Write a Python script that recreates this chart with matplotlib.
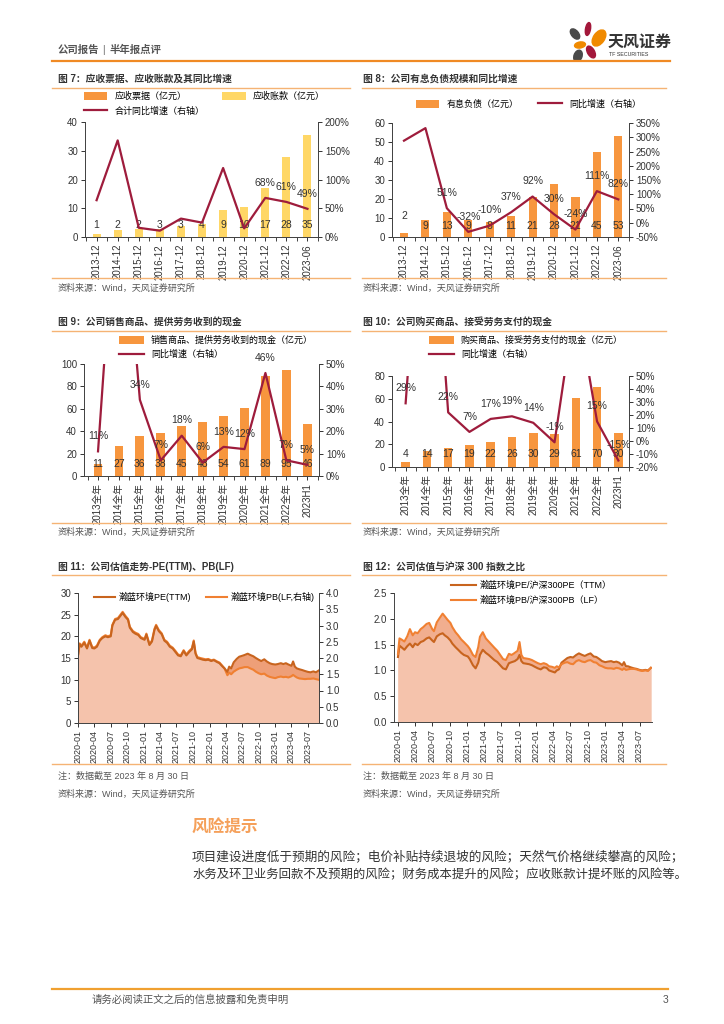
import matplotlib
matplotlib.use("Agg")
import matplotlib.pyplot as plt
import matplotlib.dates as mdates
from matplotlib.patches import Ellipse, Patch
from matplotlib.lines import Line2D
from matplotlib.ticker import FuncFormatter
import numpy as np
import pandas as pd

plt.rcParams['font.family'] = ['Liberation Sans', 'Noto Sans CJK SC']
plt.rcParams['axes.unicode_minus'] = False

# ---------------- data ----------------
years_a = ['2013-12', '2014-12', '2015-12', '2016-12', '2017-12', '2018-12',
           '2019-12', '2020-12', '2021-12', '2022-12', '2023-06']
years_b = ['2013全年', '2014全年', '2015全年', '2016全年', '2017全年', '2018全年',
           '2019全年', '2020全年', '2021全年', '2022全年', '2023H1']

# fig 7
notes_rec = [0, 0, 0, 0, 0, 0, 0, 0, 0, 0, 0]
accts_rec = [0.9, 2.4, 2.8, 2.7, 3.7, 4.4, 9.3, 10.3, 17.2, 27.8, 35.4]
rec_labels = [1, 2, 2, 3, 3, 4, 9, 10, 17, 28, 35]
rec_growth = [64, 168, 16, 11, 32, 25, 120, 15, 68, 61, 49]
rec_show = [8, 9, 10]

# fig 8
debt = [2, 9, 13, 9, 8, 11, 21, 28, 21, 45, 53]
debt_growth = [288, 332, 51, -32, -10, 37, 92, 30, -24, 111, 82]
debt_show = [2, 3, 4, 5, 6, 7, 8, 9, 10]

# fig 9
cash_in = [11, 27, 36, 38, 45, 48, 54, 61, 89, 95, 46]
cash_in_growth = [11, 145, 34, 7, 18, 6, 13, 12, 46, 7, 5]
cash_in_show = [0, 2, 3, 4, 5, 6, 7, 8, 9, 10]

# fig 10
cash_out = [4, 14, 17, 19, 22, 26, 30, 29, 61, 70, 30]
cash_out_growth = [29, 250, 22, 7, 17, 19, 14, -1, 110, 15, -15]
cash_out_show = [0, 2, 3, 4, 5, 6, 7, 9, 10]

# fig 11 / 12 time series
dates = [
    '2020-01-02', '2020-01-10', '2020-01-20', '2020-02-05', '2020-02-20', '2020-03-05', '2020-03-20',
    '2020-04-01', '2020-04-15', '2020-05-01', '2020-05-15', '2020-06-01', '2020-06-15', '2020-07-01',
    '2020-07-10', '2020-07-25', '2020-08-10', '2020-08-25', '2020-09-05', '2020-09-20', '2020-10-05',
    '2020-10-15', '2020-11-01', '2020-11-15', '2020-12-01', '2020-12-15',
    '2021-01-05', '2021-01-15', '2021-02-01', '2021-02-15', '2021-03-01', '2021-03-10', '2021-03-25',
    '2021-04-10', '2021-04-25', '2021-05-10', '2021-05-25', '2021-06-10', '2021-06-25', '2021-07-10',
    '2021-07-25', '2021-08-10', '2021-08-25', '2021-09-10', '2021-09-25', '2021-10-05', '2021-10-15',
    '2021-10-25', '2021-11-10', '2021-11-25', '2021-12-10', '2021-12-25',
    '2022-01-10', '2022-01-25', '2022-02-10', '2022-02-25', '2022-03-10', '2022-03-25', '2022-04-10',
    '2022-04-20', '2022-05-01', '2022-05-15', '2022-06-01', '2022-06-15', '2022-07-01', '2022-07-15',
    '2022-08-01', '2022-08-15', '2022-09-01', '2022-09-15', '2022-10-01', '2022-10-15', '2022-11-01',
    '2022-11-15', '2022-12-01', '2022-12-15',
    '2023-01-01', '2023-01-15', '2023-02-01', '2023-02-15', '2023-03-01', '2023-03-15', '2023-04-01',
    '2023-04-10', '2023-04-20', '2023-05-01', '2023-05-15', '2023-06-01', '2023-06-15', '2023-07-01',
    '2023-07-15', '2023-08-01', '2023-08-15', '2023-08-30']

pe_ttm = [15.8, 18.2, 17.6, 18.5, 17.2, 19.0, 17.3, 17.2, 17.6, 19.0, 19.6, 20.0, 19.8, 20.0, 22.5,
          23.8, 24.0, 24.8, 25.4, 24.5, 23.8, 22.0, 21.0, 20.6, 20.3, 19.6,
          19.2, 20.4, 18.0, 18.8, 21.5, 22.4, 21.2, 20.5, 19.0, 18.5, 17.6, 17.2, 16.4, 15.6, 15.4,
          16.6, 15.6, 16.4, 17.0, 18.8, 16.0, 15.0, 14.8, 14.6, 14.5, 14.6,
          14.3, 14.5, 14.1, 13.8, 13.2, 12.6, 11.8, 13.0, 12.6, 14.0, 14.8, 15.3, 15.5, 15.7, 16.0,
          15.7, 15.4, 15.0, 14.6, 14.3, 14.7, 14.2, 13.8, 13.6,
          13.5, 13.6, 13.8, 13.6, 13.8, 13.5, 13.2, 14.2, 13.0, 12.6, 12.4, 12.2, 12.0, 11.8, 11.7,
          11.9, 11.7, 12.1]
pb_lf = [2.13, 2.45, 2.38, 2.50, 2.32, 2.56, 2.34, 2.32, 2.38, 2.56, 2.64, 2.70, 2.67, 2.70, 3.02,
         3.20, 3.23, 3.34, 3.42, 3.30, 3.20, 2.96, 2.83, 2.78, 2.74, 2.64,
         2.59, 2.75, 2.43, 2.54, 2.90, 3.02, 2.86, 2.76, 2.56, 2.50, 2.38, 2.32, 2.22, 2.11, 2.08,
         2.24, 2.11, 2.22, 2.30, 2.54, 2.16, 2.03, 2.00, 1.98, 1.96, 1.97,
         1.93, 1.95, 1.90, 1.86, 1.78, 1.68, 1.47, 1.55, 1.50, 1.58, 1.64, 1.68, 1.70, 1.72, 1.72,
         1.68, 1.64, 1.58, 1.53, 1.50, 1.52, 1.46, 1.42, 1.40,
         1.38, 1.41, 1.43, 1.41, 1.42, 1.40, 1.44, 1.48, 1.44, 1.40, 1.37, 1.36, 1.35, 1.36, 1.36,
         1.37, 1.35, 1.33]
pe_ratio = [1.26, 1.48, 1.45, 1.40, 1.47, 1.52, 1.45, 1.52, 1.49, 1.55, 1.57, 1.62, 1.64, 1.58, 1.55,
            1.66, 1.70, 1.72, 1.68, 1.64, 1.58, 1.52, 1.45, 1.40, 1.34, 1.30,
            1.27, 1.22, 1.10, 1.04, 1.15, 1.30, 1.40, 1.34, 1.30, 1.25, 1.20, 1.16, 1.10, 1.04, 1.02,
            1.14, 1.16, 1.18, 1.22, 1.30, 1.18, 1.14, 1.13, 1.12, 1.10, 1.07,
            1.04, 1.02, 1.06, 1.05, 1.00, 0.98, 0.96, 1.00, 1.02, 1.15, 1.20, 1.24, 1.26, 1.25, 1.30,
            1.33, 1.30, 1.28, 1.31, 1.33, 1.27, 1.26, 1.22, 1.18,
            1.16, 1.17, 1.18, 1.16, 1.17, 1.15, 1.10, 1.16, 1.08, 1.08, 1.06, 1.04, 1.03, 1.01, 1.00,
            1.01, 1.00, 1.05]
pb_ratio = [1.32, 1.62, 1.60, 1.56, 1.66, 1.80, 1.68, 1.74, 1.72, 1.80, 1.84, 1.90, 1.92, 1.80, 1.76,
            1.93, 2.02, 2.10, 2.05, 1.98, 1.92, 1.84, 1.74, 1.68, 1.60, 1.55,
            1.47, 1.42, 1.30, 1.26, 1.45, 1.65, 1.74, 1.62, 1.56, 1.50, 1.44, 1.38, 1.30, 1.22, 1.20,
            1.32, 1.30, 1.34, 1.38, 1.55, 1.30, 1.24, 1.23, 1.22, 1.20, 1.17,
            1.14, 1.12, 1.14, 1.12, 1.08, 1.07, 1.05, 1.08, 1.06, 1.12, 1.15, 1.16, 1.13, 1.12, 1.18,
            1.20, 1.17, 1.16, 1.19, 1.20, 1.16, 1.15, 1.10, 1.08,
            1.05, 1.04, 1.04, 1.03, 1.05, 1.04, 1.01, 1.04, 1.01, 1.02, 1.03, 1.03, 1.02, 1.00, 0.99,
            1.00, 0.99, 1.05]

# ---------------- styles ----------------
W, H = 724, 1024
BAR_OR = '#F7963E'
BAR_YE = '#FFD766'
LINE_RED = '#9E1C3C'
RULE = '#F5B374'
TXT = '#333333'
SPINE = '#444444'
PE_LINE = '#C8641E'
PB_LINE = '#F08032'
FILL_DARK = '#EE9F78'
FILL_LIGHT = '#F5C3AC'

fig = plt.figure(figsize=(W / 100, H / 100), dpi=100)


def ax_px(l, t, r, b):
    return fig.add_axes([l / W, 1 - b / H, (r - l) / W, (b - t) / H])


def txt(x, y, s, **kw):
    kw.setdefault('va', 'center')
    fig.text(x / W, 1 - y / H, s, **kw)


def rule(x0, x1, y, color=RULE, lw=1.0):
    fig.add_artist(Line2D([x0 / W, x1 / W], [1 - y / H, 1 - y / H], color=color, lw=lw))


def fig_anchor(x, y):
    return (x / W, 1 - y / H)


def style_axes(ax, ax2=None):
    for a in [ax] + ([ax2] if ax2 is not None else []):
        a.spines['top'].set_visible(False)
        for s in a.spines.values():
            s.set_color(SPINE)
            s.set_linewidth(0.7)
        a.tick_params(labelsize=7, colors=TXT, width=0.7, length=3, pad=2)
    if ax2 is None:
        ax.spines['right'].set_visible(False)


def bar_cats(ax, n, cats, xlim):
    ax.set_xlim(*xlim)
    ax.set_xticks(range(n))
    ax.set_xticklabels(cats, rotation=90, fontsize=6.5)
    ax.tick_params(axis='x', which='major', length=0, pad=3)
    ax.set_xticks(np.arange(-0.5, n, 1), minor=True)
    ax.tick_params(axis='x', which='minor', length=3, width=0.7, color=SPINE)


pct = FuncFormatter(lambda v, p: f'{v:.0f}%')
n = len(years_a)
x = np.arange(n)

# ---------------- header ----------------
txt(58, 50, '公司报告', fontsize=7.5, color='#555555', fontweight='bold')
txt(102, 50, '|', fontsize=7.5, color='#777777')
txt(110, 50, '半年报点评', fontsize=7.5, color='#555555', fontweight='bold')
rule(52, 670, 61, color='#F08A24', lw=1.6)
logo = ax_px(568, 20, 612, 62)
logo.set_xlim(568, 612)
logo.set_ylim(62, 20)
logo.axis('off')
for (cx, cy, w, h, ang, c) in [(588, 29, 5, 13, 10, '#A3173A'), (575, 34, 7, 12, -40, '#4A4A4A'),
                               (599, 38, 11, 18, 35, '#F08A00'), (580, 45, 11, 6, -10, '#F08A00'),
                               (591, 52, 7, 13, -30, '#A3173A'), (578, 56, 8, 12, 20, '#4A4A4A')]:
    logo.add_patch(Ellipse((cx, cy), w, h, angle=ang, color=c))
txt(608, 42, '天风证券', fontsize=11.5, color='#333333', fontweight='bold')
txt(609, 55, 'TF SECURITIES', fontsize=3.8, color='#333333')

# ---------------- fig 7 ----------------
txt(58, 79, '图 7：应收票据、应收账款及其同比增速', fontsize=7, color=TXT, fontweight='bold')
rule(52, 350, 88)
ax = ax_px(85, 122, 318, 237)
ax2 = ax.twinx()
b1 = ax.bar(x, notes_rec, width=0.38, color=BAR_OR, label='应收票据（亿元）')
b2 = ax.bar(x, accts_rec, width=0.38, bottom=notes_rec, color=BAR_YE, label='应收账款（亿元）')
l1, = ax2.plot(x, rec_growth, color=LINE_RED, lw=1.6, label='合计同比增速（右轴）')
for i, v in enumerate(rec_labels):
    ax.text(i, 4, str(v), ha='center', va='center', fontsize=7.5, color=TXT)
for i in rec_show:
    ax2.annotate(f'{rec_growth[i]}%', (i, rec_growth[i]), xytext=(0, 11), textcoords='offset points',
                 ha='center', va='center', fontsize=7.5, color=TXT)
ax.set_ylim(0, 40)
ax.set_yticks(range(0, 41, 10))
ax2.set_ylim(0, 200)
ax2.set_yticks(range(0, 201, 50))
ax2.yaxis.set_major_formatter(pct)
bar_cats(ax, n, years_a, (-0.55, 10.5))
style_axes(ax, ax2)
ax.legend(handles=[b1, l1, b2], ncol=2, loc='upper left', bbox_to_anchor=fig_anchor(80, 88),
          bbox_transform=fig.transFigure, frameon=False, fontsize=6.5, handlelength=2.6,
          handleheight=0.9, columnspacing=2.0, labelspacing=0.6, borderaxespad=0)
rule(52, 350, 278)
txt(58, 288, '资料来源：Wind，天风证券研究所', fontsize=6.5, color='#555555')

# ---------------- fig 8 ----------------
txt(363, 79, '图 8：公司有息负债规模和同比增速', fontsize=7, color=TXT, fontweight='bold')
rule(362, 666, 88)
ax = ax_px(392, 123, 629, 237)
ax2 = ax.twinx()
b1 = ax.bar(x, debt, width=0.38, color=BAR_OR, label='有息负债（亿元）')
l1, = ax2.plot(x, debt_growth, color=LINE_RED, lw=1.6, label='同比增速（右轴）')
debt_lab_y = np.where(np.array(debt) < 5, np.array(debt) + 9, 6)
for i, v in enumerate(debt):
    ax.text(i, debt_lab_y[i], str(v), ha='center', va='center', fontsize=7.5, color=TXT)
for i in debt_show:
    ax2.annotate(f'{debt_growth[i]}%', (i, debt_growth[i]), xytext=(0, 11), textcoords='offset points',
                 ha='center', va='center', fontsize=7.5, color=TXT)
ax.set_ylim(0, 60)
ax.set_yticks(range(0, 61, 10))
ax2.set_ylim(-50, 350)
ax2.set_yticks(range(-50, 351, 50))
ax2.yaxis.set_major_formatter(pct)
bar_cats(ax, n, years_a, (-0.56, 10.47))
style_axes(ax, ax2)
ax.legend(handles=[b1, l1], ncol=2, loc='upper left', bbox_to_anchor=fig_anchor(412, 96),
          bbox_transform=fig.transFigure, frameon=False, fontsize=6.5, handlelength=2.6,
          handleheight=0.9, columnspacing=2.2, borderaxespad=0)
rule(362, 666, 278)
txt(363, 288, '资料来源：Wind，天风证券研究所', fontsize=6.5, color='#555555')

# ---------------- fig 9 ----------------
txt(58, 322, '图 9：公司销售商品、提供劳务收到的现金', fontsize=7, color=TXT, fontweight='bold')
rule(52, 350, 331)
ax = ax_px(84, 364, 319, 476)
ax2 = ax.twinx()
b1 = ax.bar(x, cash_in, width=0.42, color=BAR_OR, label='销售商品、提供劳务收到的现金（亿元）')
l1, = ax2.plot(x, cash_in_growth, color=LINE_RED, lw=1.6, label='同比增速（右轴）')
for i, v in enumerate(cash_in):
    ax.text(i, 11, str(v), ha='center', va='center', fontsize=7.5, color=TXT)
for i in cash_in_show:
    ax2.annotate(f'{cash_in_growth[i]}%', (i, cash_in_growth[i]), xytext=(0, 11),
                 textcoords='offset points', ha='center', va='center', fontsize=7.5, color=TXT)
ax.set_ylim(0, 100)
ax.set_yticks(range(0, 101, 20))
ax2.set_ylim(0, 50)
ax2.set_yticks(range(0, 51, 10))
ax2.yaxis.set_major_formatter(pct)
bar_cats(ax, n, years_b, (-0.67, 10.56))
style_axes(ax, ax2)
ax.legend(handles=[b1, l1], ncol=1, loc='upper left', bbox_to_anchor=fig_anchor(115, 332),
          bbox_transform=fig.transFigure, frameon=False, fontsize=6.5, handlelength=2.8,
          handleheight=0.9, labelspacing=0.55, borderaxespad=0)
rule(52, 350, 523)
txt(58, 532, '资料来源：Wind，天风证券研究所', fontsize=6.5, color='#555555')

# ---------------- fig 10 ----------------
txt(363, 322, '图 10：公司购买商品、接受劳务支付的现金', fontsize=7, color=TXT, fontweight='bold')
rule(362, 666, 331)
ax = ax_px(392, 376, 629, 467)
ax2 = ax.twinx()
b1 = ax.bar(x, cash_out, width=0.4, color=BAR_OR, label='购买商品、接受劳务支付的现金（亿元）')
l1, = ax2.plot(x, cash_out_growth, color=LINE_RED, lw=1.6, label='同比增速（右轴）')
for i, v in enumerate(cash_out):
    ax.text(i, 11, str(v), ha='center', va='center', fontsize=7.5, color=TXT)
for i in cash_out_show:
    ax2.annotate(f'{cash_out_growth[i]}%', (i, cash_out_growth[i]), xytext=(0, 11),
                 textcoords='offset points', ha='center', va='center', fontsize=7.5, color=TXT)
ax.set_ylim(0, 80)
ax.set_yticks(range(0, 81, 20))
ax2.set_ylim(-20, 50)
ax2.set_yticks(range(-20, 51, 10))
ax2.yaxis.set_major_formatter(pct)
bar_cats(ax, n, years_b, (-0.64, 10.47))
style_axes(ax, ax2)
ax.legend(handles=[b1, l1], ncol=1, loc='upper left', bbox_to_anchor=fig_anchor(425, 332),
          bbox_transform=fig.transFigure, frameon=False, fontsize=6.5, handlelength=2.8,
          handleheight=0.9, labelspacing=0.55, borderaxespad=0)
rule(362, 666, 523)
txt(363, 532, '资料来源：Wind，天风证券研究所', fontsize=6.5, color='#555555')

# ---------------- fig 11 ----------------
d = pd.to_datetime(dates)
tick_dates = pd.date_range('2020-01-01', '2023-07-01', freq='3MS')

txt(58, 567, '图 11：公司估值走势-PE(TTM)、PB(LF)', fontsize=7, color=TXT, fontweight='bold')
rule(52, 350, 575)
ax = ax_px(78, 593, 319, 723)
ax2 = ax.twinx()
ax.fill_between(d, 0, pe_ttm, color=FILL_DARK, lw=0)
ax2.fill_between(d, 0, pb_lf, color=FILL_LIGHT, lw=0)
lp2, = ax2.plot(d, pb_lf, color=PB_LINE, lw=1.5, label='瀚蓝环境PB(LF,右轴)')
lp1, = ax2.plot(d, pe_ttm, color=PE_LINE, lw=1.5, transform=ax.transData, label='瀚蓝环境PE(TTM)')
ax.set_ylim(0, 30)
ax.set_yticks(range(0, 31, 5))
ax2.set_ylim(0, 4)
ax2.set_yticks(np.arange(0, 4.01, 0.5))
ax2.yaxis.set_major_formatter(FuncFormatter(lambda v, p: f'{v:.1f}'))
for a in (ax, ax2):
    a.set_xlim(pd.Timestamp('2020-01-01'), pd.Timestamp('2023-09-01'))
ax.set_xticks(tick_dates)
ax.xaxis.set_major_formatter(mdates.DateFormatter('%Y-%m'))
ax.tick_params(axis='x', rotation=90)
style_axes(ax, ax2)
ax.tick_params(axis='x', labelsize=6.5)
ax2.legend(handles=[lp1, lp2], ncol=2, loc='upper left', bbox_to_anchor=fig_anchor(90, 588),
           bbox_transform=fig.transFigure, frameon=False, fontsize=6.5, handlelength=2.4,
           columnspacing=1.6, borderaxespad=0, handletextpad=0.4)
rule(52, 350, 764)
txt(58, 776, '注：数据截至 2023 年 8 月 30 日', fontsize=6.5, color='#555555')
txt(58, 794, '资料来源：Wind，天风证券研究所', fontsize=6.5, color='#555555')

# ---------------- fig 12 ----------------
txt(363, 567, '图 12：公司估值与沪深 300 指数之比', fontsize=7, color=TXT, fontweight='bold')
rule(362, 666, 575)
ax = ax_px(394, 593, 652, 722)
ax.fill_between(d, 0, np.maximum(pe_ratio, pb_ratio), color='#F1AE8F', lw=0)
ax.fill_between(d, 0, np.minimum(pe_ratio, pb_ratio), color=FILL_LIGHT, lw=0)
lr1, = ax.plot(d, pe_ratio, color=PE_LINE, lw=1.5, label='瀚蓝环境PE/沪深300PE（TTM）')
lr2, = ax.plot(d, pb_ratio, color=PB_LINE, lw=1.5, label='瀚蓝环境PB/沪深300PB（LF）')
ax.set_ylim(0, 2.5)
ax.set_yticks(np.arange(0, 2.51, 0.5))
ax.yaxis.set_major_formatter(FuncFormatter(lambda v, p: f'{v:.1f}'))
ax.set_xlim(pd.Timestamp('2019-12-12'), pd.Timestamp('2023-09-05'))
ax.set_xticks(tick_dates)
ax.xaxis.set_major_formatter(mdates.DateFormatter('%Y-%m'))
ax.tick_params(axis='x', rotation=90)
style_axes(ax)
ax.tick_params(axis='x', labelsize=6.5)
ax.legend(handles=[lr1, lr2], ncol=1, loc='upper left', bbox_to_anchor=fig_anchor(447, 577),
          bbox_transform=fig.transFigure, frameon=False, fontsize=6.5, handlelength=2.8,
          labelspacing=0.6, borderaxespad=0, handletextpad=0.4)
rule(362, 666, 764)
txt(363, 776, '注：数据截至 2023 年 8 月 30 日', fontsize=6.5, color='#555555')
txt(363, 794, '资料来源：Wind，天风证券研究所', fontsize=6.5, color='#555555')

# ---------------- risk text ----------------
txt(192, 828, '风险提示', fontsize=12, color='#F5A05A', fontweight='bold')
txt(192, 858, '项目建设进度低于预期的风险；电价补贴持续退坡的风险；天然气价格继续攀高的风险；',
    fontsize=9.1, color=TXT)
txt(192, 875, '水务及环卫业务回款不及预期的风险；财务成本提升的风险；应收账款计提坏账的风险等。',
    fontsize=8.9, color=TXT)

# ---------------- footer ----------------
rule(52, 668, 989, color='#F0A030', lw=1.6)
txt(92, 1000, '请务必阅读正文之后的信息披露和免责申明', fontsize=7.5, color='#555555')
txt(668, 1000, '3', fontsize=7.5, color='#555555', ha='right')

fig.savefig('out.png', dpi=100)
